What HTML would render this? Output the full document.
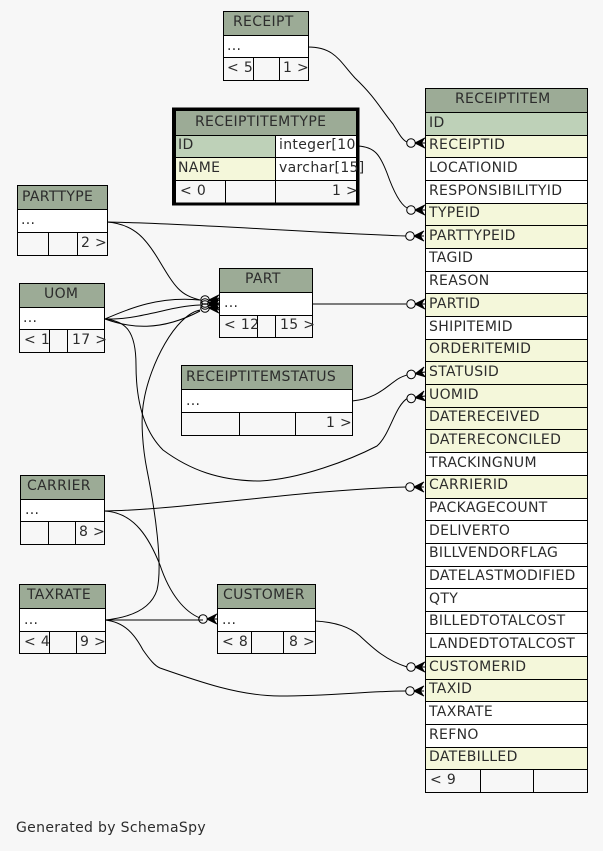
<!DOCTYPE html>
<html><head><meta charset="utf-8"><style>
html,body{margin:0;padding:0;background:#f7f7f7}
svg{display:block}
text{font-family:"DejaVu Sans","Liberation Sans",sans-serif;font-size:14px;letter-spacing:.33px;fill:#2c2c2c}
.e{fill:none;stroke:#000;stroke-width:1}
.b{fill:none;stroke:#000;stroke-width:1;shape-rendering:crispEdges}
.h{fill:#9cab96}.w{fill:#fff}.i{fill:#bed1b8}.f{fill:#f4f7da}
</style></head><body>
<svg width="603" height="851" viewBox="0 0 603 851" xmlns="http://www.w3.org/2000/svg">
<defs>
<g id="c"><path d="M-10,0 L0,-5 L-3,0 L0,5Z" fill="#000"/><path d="M-10,0 L0,-5 M-10,0 L0,5 M-10,0H0" stroke="#000" fill="none"/><circle cx="-14" cy="0" r="4.3" fill="#f7f7f7" stroke="#000"/></g>
<g id="d"><path d="M-10,0 L0,-5 L-3,0 L0,5Z" fill="#000"/><path d="M-10,0 L0,-5 M-10,0 L0,5 M-10,0H0" stroke="#000" fill="none"/><circle cx="-14" cy="0" r="4.3" fill="none" stroke="#000"/></g>
</defs>
<rect width="603" height="851" fill="#f7f7f7"/>

<!-- connectors -->
<path class="e" d="M308,47 C335,47 340,62 355,78 C375,97 380,108 393,124 C398,132 402,140 407,142"/>
<path class="e" d="M358,146 C375,147 380,155 387,173 C393,190 400,204 407,208"/>
<path class="e" d="M107,222 C200,224 300,232 406,236"/>
<path class="e" d="M107,222 C135,224 147,240 160,262 C175,287 180,295 200,300"/>
<path class="e" d="M105,319 C130,308 160,296 200,300"/>
<path class="e" d="M105,319 C140,320 170,306 200,305"/>
<path class="e" d="M105,319 C130,328 160,332 200,311"/>
<path class="e" d="M105,319 C125,321 136,330 136,365 C136,400 143,430 163,450 C190,470 220,481 260,481 C300,479 350,460 377,446 C390,435 395,405 408,398"/>
<path class="e" d="M105,620 C125,618 150,612 157,590 C163,565 155,510 147,470 C143,450 140,420 144,400 C150,365 175,315 200,310"/>
<path class="e" d="M104,511 C180,510 300,490 406,487"/>
<path class="e" d="M104,511 C135,512 150,540 160,565 C170,595 185,612 200,618"/>
<path class="e" d="M105,620 H203"/>
<path class="e" d="M105,620 C125,622 135,635 143,650 C150,660 155,666 160,668 C200,682 240,696 280,696 C330,696 370,691 406,691"/>
<path class="e" d="M315,621 C335,622 350,627 360,636 C372,647 385,660 407,667"/>
<path class="e" d="M312,304 H406"/>
<path class="e" d="M352,401 C375,399 385,388 395,381 C400,377 404,376 407,375"/>

<use href="#c" transform="translate(425,143)"/>
<use href="#c" transform="translate(425,210)"/>
<use href="#c" transform="translate(424,236)"/>
<use href="#c" transform="translate(425,304)"/>
<use href="#c" transform="translate(425,372) rotate(-10)"/>
<use href="#c" transform="translate(425,396) rotate(-10)"/>
<use href="#c" transform="translate(424,487)"/>
<use href="#c" transform="translate(425,667)"/>
<use href="#c" transform="translate(424,691)"/>
<use href="#d" transform="translate(219,300)"/>
<use href="#d" transform="translate(219,303)"/>
<use href="#d" transform="translate(219,305)"/>
<use href="#d" transform="translate(219,308)"/>
<use href="#d" transform="translate(217,619)"/>

<!-- RECEIPT -->
<rect class="h" x="223" y="11" width="85" height="24"/><rect class="w" x="223" y="35" width="85" height="22"/>
<path class="b" d="M223.5,11.5H308.5V80.5H223.5Z M223.5,35.5H308.5 M223.5,57.5H308.5 M253.5,57.5V80.5 M279.5,57.5V80.5"/>
<text x="233" y="26">RECEIPT</text><text x="227" y="50">...</text><text x="227" y="72">&lt; 5</text><text x="283" y="72">1 &gt;</text>

<!-- RECEIPTITEMTYPE -->
<rect class="h" x="175" y="110" width="182" height="25"/><rect class="i" x="175" y="135" width="100" height="22"/><rect class="w" x="275" y="135" width="82" height="45"/><rect class="f" x="175" y="157" width="100" height="23"/>
<path class="b" d="M175.5,110.5H356.5V203.5H175.5Z M175.5,135.5H356.5 M175.5,157.5H356.5 M175.5,180.5H356.5 M275.5,135.5V203.5 M225.5,180.5V203.5"/>
<path d="M173.5,109 H358 V204 H173.5Z" fill="none" stroke="#000" stroke-width="3" shape-rendering="crispEdges"/>
<text x="195" y="126">RECEIPTITEMTYPE</text><text x="178" y="149">ID</text><text x="279" y="149">integer[10</text><text x="178" y="172">NAME</text><text x="279" y="172">varchar[15]</text><text x="180" y="195">&lt; 0</text><text x="332" y="195">1 &gt;</text>

<!-- PARTTYPE -->
<rect class="h" x="17" y="185" width="90" height="24"/><rect class="w" x="17" y="209" width="90" height="23"/>
<path class="b" d="M17.5,185.5H107.5V255.5H17.5Z M17.5,209.5H107.5 M17.5,232.5H107.5 M48.5,232.5V255.5 M77.5,232.5V255.5"/>
<text x="22" y="201">PARTTYPE</text><text x="21" y="224">...</text><text x="81" y="247">2 &gt;</text>

<!-- UOM -->
<rect class="h" x="19" y="283" width="85" height="24"/><rect class="w" x="19" y="307" width="85" height="22"/>
<path class="b" d="M19.5,283.5H104.5V352.5H19.5Z M19.5,307.5H104.5 M19.5,329.5H104.5 M49.5,329.5V352.5 M67.5,329.5V352.5"/>
<text x="44" y="298">UOM</text><text x="23" y="322">...</text><text x="24" y="344">&lt; 1</text><text x="72" y="344">17 &gt;</text>

<!-- PART -->
<rect class="h" x="219" y="268" width="93" height="24"/><rect class="w" x="219" y="292" width="93" height="23"/>
<path class="b" d="M219.5,268.5H312.5V337.5H219.5Z M219.5,292.5H312.5 M219.5,315.5H312.5 M257.5,315.5V337.5 M275.5,315.5V337.5"/>
<text x="245" y="283">PART</text><text x="224" y="307">...</text><text x="224" y="329">&lt; 12</text><text x="280" y="329">15 &gt;</text>

<!-- RECEIPTITEMSTATUS -->
<rect class="h" x="181" y="365" width="171" height="24"/><rect class="w" x="181" y="389" width="171" height="23"/>
<path class="b" d="M181.5,365.5H352.5V435.5H181.5Z M181.5,389.5H352.5 M181.5,412.5H352.5 M239.5,412.5V435.5 M295.5,412.5V435.5"/>
<text x="186" y="381">RECEIPTITEMSTATUS</text><text x="186" y="405">...</text><text x="326" y="427">1 &gt;</text>

<!-- CARRIER -->
<rect class="h" x="20" y="475" width="84" height="24"/><rect class="w" x="20" y="499" width="84" height="22"/>
<path class="b" d="M20.5,475.5H104.5V544.5H20.5Z M20.5,499.5H104.5 M20.5,521.5H104.5 M48.5,521.5V544.5 M75.5,521.5V544.5"/>
<text x="27" y="490">CARRIER</text><text x="25" y="514">...</text><text x="79" y="536">8 &gt;</text>

<!-- TAXRATE -->
<rect class="h" x="19" y="584" width="86" height="24"/><rect class="w" x="19" y="608" width="86" height="23"/>
<path class="b" d="M19.5,584.5H105.5V653.5H19.5Z M19.5,608.5H105.5 M19.5,631.5H105.5 M49.5,631.5V653.5 M76.5,631.5V653.5"/>
<text x="27" y="599">TAXRATE</text><text x="24" y="624">...</text><text x="24" y="646">&lt; 4</text><text x="80" y="646">9 &gt;</text>

<!-- CUSTOMER -->
<rect class="h" x="217" y="584" width="98" height="24"/><rect class="w" x="217" y="608" width="98" height="23"/>
<path class="b" d="M217.5,584.5H315.5V653.5H217.5Z M217.5,608.5H315.5 M217.5,631.5H315.5 M251.5,631.5V653.5 M283.5,631.5V653.5"/>
<text x="223" y="599">CUSTOMER</text><text x="222" y="624">...</text><text x="222" y="646">&lt; 8</text><text x="289" y="646">8 &gt;</text>

<!-- RECEIPTITEM -->
<rect class="h" x="425" y="88" width="162" height="24"/>
<rect class="w" x="425" y="112" width="162" height="658"/>
<rect class="i" x="425" y="112" width="162" height="23"/>
<rect class="f" x="425" y="135" width="162" height="22"/>
<rect class="f" x="425" y="203" width="162" height="45"/>
<rect class="f" x="425" y="293" width="162" height="23"/>
<rect class="f" x="425" y="339" width="162" height="68"/>
<rect class="f" x="425" y="407" width="162" height="45"/>
<rect class="f" x="425" y="475" width="162" height="23"/>
<rect class="f" x="425" y="656" width="162" height="45"/>
<rect class="f" x="425" y="747" width="162" height="23"/>
<path class="b" d="M425.5,88.5H587.5V792.5H425.5Z M425.5,112.5H587.5 M425.5,135.5H587.5 M425.5,157.5H587.5 M425.5,180.5H587.5 M425.5,203.5H587.5 M425.5,225.5H587.5 M425.5,248.5H587.5 M425.5,271.5H587.5 M425.5,293.5H587.5 M425.5,316.5H587.5 M425.5,339.5H587.5 M425.5,361.5H587.5 M425.5,384.5H587.5 M425.5,407.5H587.5 M425.5,429.5H587.5 M425.5,452.5H587.5 M425.5,475.5H587.5 M425.5,498.5H587.5 M425.5,520.5H587.5 M425.5,543.5H587.5 M425.5,566.5H587.5 M425.5,588.5H587.5 M425.5,611.5H587.5 M425.5,633.5H587.5 M425.5,656.5H587.5 M425.5,679.5H587.5 M425.5,701.5H587.5 M425.5,724.5H587.5 M425.5,747.5H587.5 M425.5,769.5H587.5 M480.5,769.5V792.5 M533.5,769.5V792.5"/>
<text x="455" y="103">RECEIPTITEM</text>
<text x="429" y="127">ID</text>
<text x="429" y="149">RECEIPTID</text>
<text x="429" y="172">LOCATIONID</text>
<text x="429" y="195">RESPONSIBILITYID</text>
<text x="429" y="217">TYPEID</text>
<text x="429" y="240">PARTTYPEID</text>
<text x="429" y="262">TAGID</text>
<text x="429" y="285">REASON</text>
<text x="429" y="308">PARTID</text>
<text x="429" y="331">SHIPITEMID</text>
<text x="429" y="353">ORDERITEMID</text>
<text x="429" y="376">STATUSID</text>
<text x="429" y="399">UOMID</text>
<text x="429" y="421">DATERECEIVED</text>
<text x="429" y="444">DATERECONCILED</text>
<text x="429" y="467">TRACKINGNUM</text>
<text x="429" y="489">CARRIERID</text>
<text x="429" y="512">PACKAGECOUNT</text>
<text x="429" y="535">DELIVERTO</text>
<text x="429" y="557">BILLVENDORFLAG</text>
<text x="429" y="580">DATELASTMODIFIED</text>
<text x="429" y="603">QTY</text>
<text x="429" y="625">BILLEDTOTALCOST</text>
<text x="429" y="648">LANDEDTOTALCOST</text>
<text x="429" y="671">CUSTOMERID</text>
<text x="429" y="693">TAXID</text>
<text x="429" y="716">TAXRATE</text>
<text x="429" y="739">REFNO</text>
<text x="429" y="761">DATEBILLED</text>
<text x="430" y="784">&lt; 9</text>

<text x="16" y="832">Generated by SchemaSpy</text>
</svg>
</body></html>
